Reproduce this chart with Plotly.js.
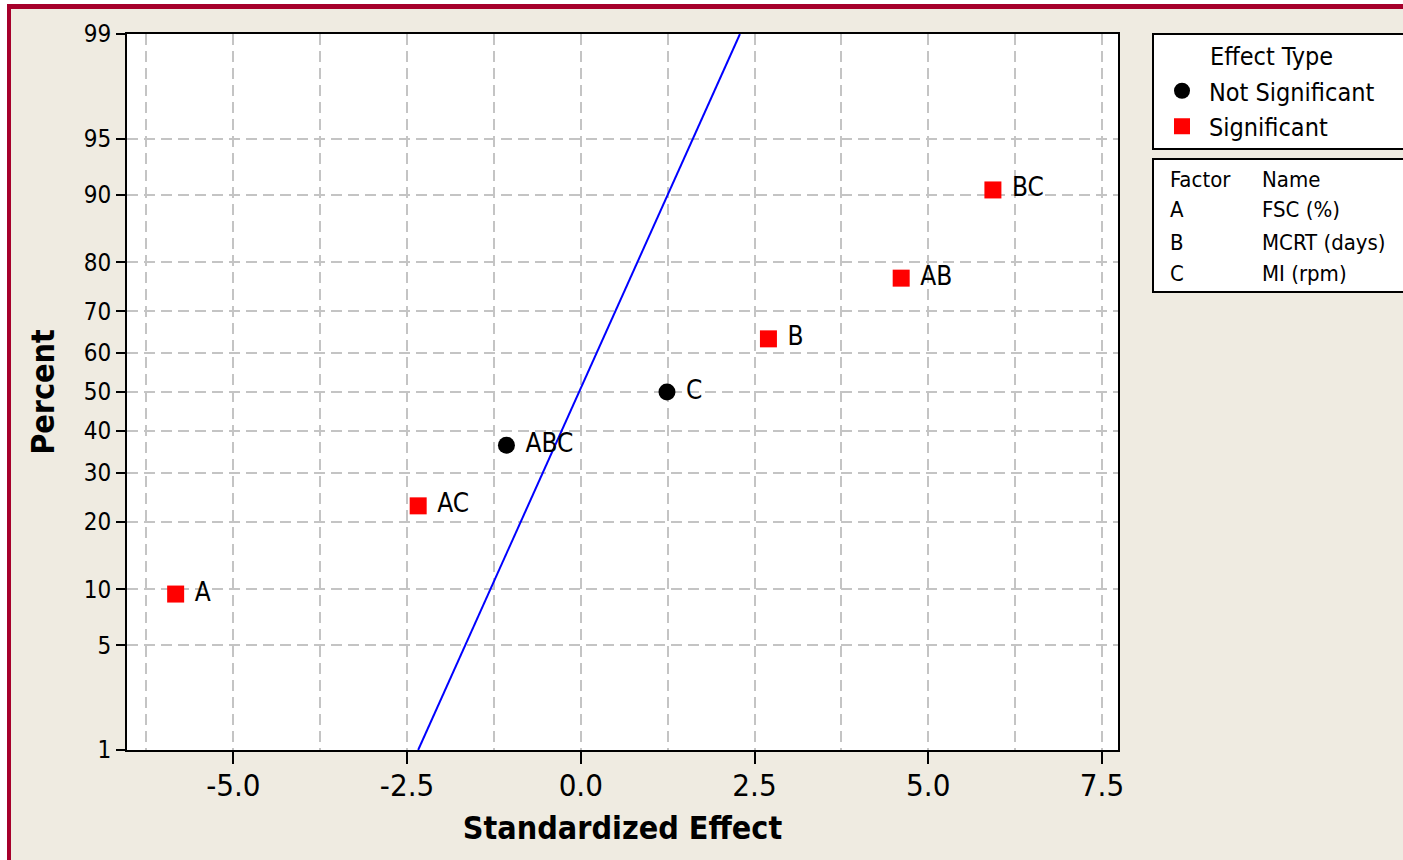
<!DOCTYPE html>
<html>
<head>
<meta charset="utf-8">
<script src="https://cdn.plot.ly/plotly-3.0.1.min.js"></script>
<style>
  html, body { margin: 0; padding: 0; background: #ffffff; width: 1403px; height: 860px; overflow: hidden; }
  #frame { position: absolute; left: 7px; top: 4px; width: 1392px; height: 851px;
           background: #EFEBE1; border-left: 4px solid #A6002B; border-top: 5px solid #A6002B; }
  #chart { position: absolute; left: 0; top: 0; width: 1403px; height: 860px; }
</style>
</head>
<body>
<div id="frame"></div>
<div id="chart"></div>
<script>
// ---- data ----
const effectNames = ['A', 'AC', 'ABC', 'C', 'B', 'AB', 'BC'];
const effectValues = [-5.83, -2.34, -1.07, 1.24, 2.70, 4.61, 5.93];
const effectPercents = [9.46, 22.97, 36.49, 50.0, 63.51, 77.03, 90.54];
const effectSignificant = [true, true, false, false, true, true, true];

const refLineEffect = [-2.34, 2.29];
const refLinePercent = [1, 99];

const percentTicks = [1, 5, 10, 20, 30, 40, 50, 60, 70, 80, 90, 95, 99];
const xTickVals = [-5.0, -2.5, 0.0, 2.5, 5.0, 7.5];
const xTickText = ['-5.0', '-2.5', '0.0', '2.5', '5.0', '7.5'];

const factorCodes = ['A', 'B', 'C'];
const factorNames = ['FSC (%)', 'MCRT (days)', 'MI (rpm)'];

// ---- normal probability scale (inverse normal CDF, Acklam) ----
function invNorm(p) {
  const a = [-3.969683028665376e+01, 2.209460984245205e+02, -2.759285104469687e+02, 1.383577518672690e+02, -3.066479806614716e+01, 2.506628277459239e+00];
  const b = [-5.447609879822406e+01, 1.615858368580409e+02, -1.556989798598866e+02, 6.680131188771972e+01, -1.328068155288572e+01];
  const c = [-7.784894002430293e-03, -3.223964580411365e-01, -2.400758277161838e+00, -2.549732539343734e+00, 4.374664141464968e+00, 2.938163982698783e+00];
  const d = [7.784695709041462e-03, 3.224671290700398e-01, 2.445134137142996e+00, 3.754408661907416e+00];
  const pl = 0.02425, ph = 1 - pl;
  let q, r;
  if (p < pl) {
    q = Math.sqrt(-2 * Math.log(p));
    return (((((c[0]*q+c[1])*q+c[2])*q+c[3])*q+c[4])*q+c[5]) / ((((d[0]*q+d[1])*q+d[2])*q+d[3])*q+1);
  } else if (p <= ph) {
    q = p - 0.5; r = q * q;
    return (((((a[0]*r+a[1])*r+a[2])*r+a[3])*r+a[4])*r+a[5])*q / (((((b[0]*r+b[1])*r+b[2])*r+b[3])*r+b[4])*r+1);
  } else {
    q = Math.sqrt(-2 * Math.log(1 - p));
    return -(((((c[0]*q+c[1])*q+c[2])*q+c[3])*q+c[4])*q+c[5]) / ((((d[0]*q+d[1])*q+d[2])*q+d[3])*q+1);
  }
}
const toZ = pct => invNorm(pct / 100);

// ---- layout geometry helpers ----
const W = 1403, H = 860;
const M = { l: 127, r: 285, t: 34, b: 110 };
const PW = W - M.l - M.r, PH = H - M.t - M.b;
const px = x => (x - M.l) / PW;
const py = y => (H - M.b - y) / PH;

const FONT = '"DejaVu Sans Condensed", "DejaVu Sans", Verdana, sans-serif';

function subset(flag) {
  const xs = [], ys = [], ts = [];
  effectNames.forEach((n, i) => {
    if (effectSignificant[i] === flag) { xs.push(effectValues[i]); ys.push(toZ(effectPercents[i])); ts.push(n); }
  });
  return { xs, ys, ts };
}
const ns = subset(false), sg = subset(true);

const labelTemplate = '\u00A0%{text}';

const traces = [
  {
    x: refLineEffect, y: refLinePercent.map(toZ), mode: 'lines', type: 'scatter',
    line: { color: '#0000FF', width: 2 }, showlegend: false, hoverinfo: 'skip'
  },
  {
    x: ns.xs, y: ns.ys, text: ns.ts, texttemplate: labelTemplate, mode: 'markers+text', type: 'scatter', name: 'Not Significant',
    textposition: 'middle right', textfont: { family: FONT, size: 26, color: '#000' },
    marker: { symbol: 'circle', size: 17, color: '#000000' }
  },
  {
    x: sg.xs, y: sg.ys, text: sg.ts, texttemplate: labelTemplate, mode: 'markers+text', type: 'scatter', name: 'Significant',
    textposition: 'middle right', textfont: { family: FONT, size: 26, color: '#000' },
    marker: { symbol: 'square', size: 17, color: '#FF0000' }
  }
];

const gridStyle = { gridcolor: '#C4C4C4', gridwidth: 2, griddash: '11px,6px' };

const annotations = [
  { text: 'Effect Type', xref: 'paper', yref: 'paper', x: px(1208), y: py(56), xanchor: 'left', yanchor: 'middle',
    showarrow: false, font: { family: FONT, size: 25, color: '#000' } },
  { text: 'Factor', xref: 'paper', yref: 'paper', x: px(1168), y: py(179), xanchor: 'left', yanchor: 'middle',
    showarrow: false, font: { family: FONT, size: 22, color: '#000' } },
  { text: 'Name', xref: 'paper', yref: 'paper', x: px(1260), y: py(179), xanchor: 'left', yanchor: 'middle',
    showarrow: false, font: { family: FONT, size: 22, color: '#000' } }
];
const rowY = [210, 242, 273];
factorCodes.forEach((c, i) => {
  annotations.push({ text: c, xref: 'paper', yref: 'paper', x: px(1168), y: py(rowY[i]), xanchor: 'left', yanchor: 'middle',
    showarrow: false, font: { family: FONT, size: 22, color: '#000' } });
  annotations.push({ text: factorNames[i], xref: 'paper', yref: 'paper', x: px(1260), y: py(rowY[i]), xanchor: 'left', yanchor: 'middle',
    showarrow: false, font: { family: FONT, size: 22, color: '#000' } });
});

const layout = {
  width: W, height: H,
  margin: M,
  paper_bgcolor: 'rgba(0,0,0,0)',
  plot_bgcolor: '#FFFFFF',
  font: { family: FONT, color: '#000' },
  showlegend: true,
  legend: {
    x: px(1155), y: py(68), xanchor: 'left', yanchor: 'top', itemwidth: 44,
    bgcolor: 'rgba(0,0,0,0)', borderwidth: 0,
    font: { family: FONT, size: 25, color: '#000' }
  },
  xaxis: {
    range: [-6.53, 7.73], tickvals: xTickVals, ticktext: xTickText,
    ticks: 'outside', ticklen: 12, tickwidth: 2, tickcolor: '#000',
    ticklabelstandoff: -5,
    tickfont: { family: FONT, size: 31, color: '#000' },
    showline: true, linecolor: '#000', linewidth: 2, mirror: true,
    zeroline: false, showgrid: true, ...gridStyle,
    minor: { dtick: 1.25, tick0: 0, showgrid: true, ticks: '', ...gridStyle },
    title: { text: 'Standardized Effect', font: { family: FONT, size: 32, color: '#000', weight: 'bold' }, standoff: 14 }
  },
  yaxis: {
    range: [toZ(1), toZ(99)], tickvals: percentTicks.map(toZ), ticktext: percentTicks.map(String),
    ticks: 'outside', ticklen: 9, tickwidth: 2, tickcolor: '#000',
    tickfont: { family: FONT, size: 24, color: '#000' },
    showline: true, linecolor: '#000', linewidth: 2, mirror: true,
    zeroline: false, showgrid: true, ...gridStyle,
    title: { text: 'Percent', font: { family: FONT, size: 32, color: '#000', weight: 'bold' }, standoff: 20 }
  },
  shapes: [
    { type: 'rect', xref: 'paper', yref: 'paper', x0: px(1153), x1: px(1412), y0: py(149), y1: py(34),
      line: { color: '#000', width: 2 }, fillcolor: '#FFFFFF', layer: 'above' },
    { type: 'rect', xref: 'paper', yref: 'paper', x0: px(1153), x1: px(1412), y0: py(292), y1: py(159),
      line: { color: '#000', width: 2 }, fillcolor: '#FFFFFF', layer: 'above' }
  ],
  annotations: annotations
};

Plotly.newPlot('chart', traces, layout, { displayModeBar: false, staticPlot: true });
</script>
</body>
</html>
